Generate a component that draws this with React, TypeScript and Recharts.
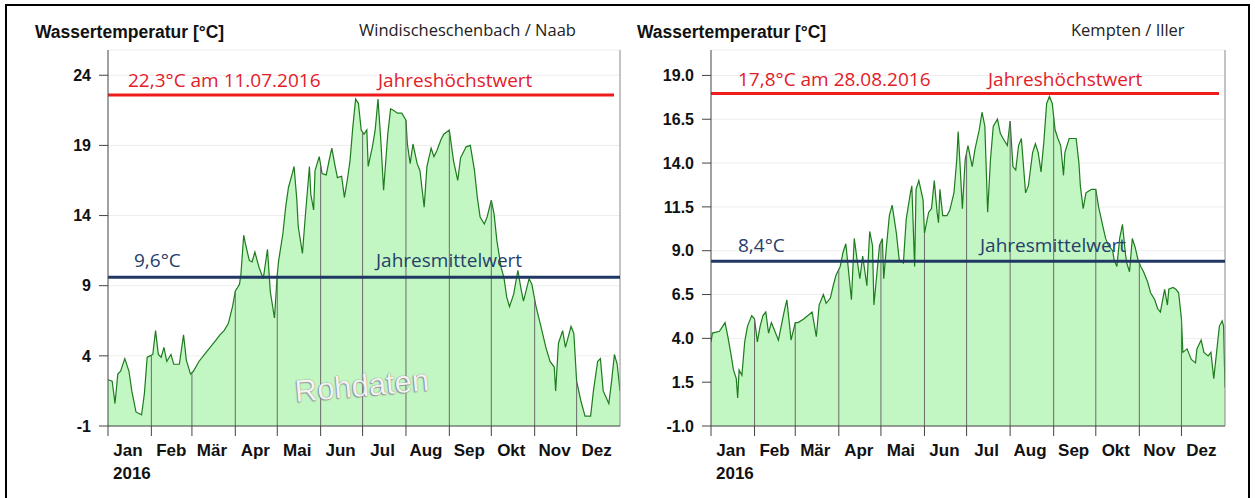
import React from 'react';
import { AreaChart, Area, XAxis, YAxis, CartesianGrid, ReferenceLine } from 'recharts';

const monthStarts = [0, 31, 60, 91, 121, 152, 182, 213, 244, 274, 305, 335];
const monthNames = ['Jan', 'Feb', 'Mär', 'Apr', 'Mai', 'Jun', 'Jul', 'Aug', 'Sep', 'Okt', 'Nov', 'Dez'];
const yearLabel = '2016';
const axisTitle = 'Wassertemperatur [°C]';

// Windischeschenbach / Naab
const naabStation = 'Windischeschenbach / Naab';
const naabDays = [0, 3, 5, 7, 9, 12, 15, 17, 20, 24, 26, 28, 30, 32, 34, 36, 38, 40, 42, 45, 47, 51, 54, 56, 59, 61, 65, 69, 73, 77, 80, 83, 86, 89, 91, 94, 95, 97, 98, 101, 103, 105, 108, 111, 114, 116, 119, 121, 122, 125, 127, 129, 132, 133, 135, 136, 139, 141, 144, 145, 147, 148, 151, 153, 156, 158, 160, 162, 164, 167, 169, 171, 173, 175, 177, 179, 181, 183, 185, 186, 189, 191, 193, 195, 197, 200, 202, 204, 207, 210, 213, 214, 216, 218, 221, 223, 226, 228, 231, 233, 235, 238, 240, 244, 247, 250, 252, 256, 259, 262, 264, 266, 269, 271, 274, 276, 278, 281, 283, 285, 287, 290, 293, 295, 297, 301, 303, 306, 309, 313, 316, 319, 320, 322, 325, 327, 331, 333, 335, 338, 341, 345, 347, 350, 352, 354, 358, 360, 362, 364, 366];
const naabTemps = [2.3, 2.2, 0.6, 2.7, 2.9, 3.8, 2.9, 1.5, 0.0, -0.2, 1.3, 3.9, 4.0, 4.1, 5.8, 4.1, 3.9, 4.6, 3.6, 4.1, 3.4, 3.4, 5.5, 3.7, 2.7, 2.9, 3.6, 4.1, 4.6, 5.1, 5.5, 5.8, 6.3, 7.5, 8.6, 9.1, 9.8, 12.6, 12.1, 10.8, 10.7, 11.4, 10.3, 9.5, 11.6, 8.6, 6.7, 9.8, 10.8, 12.7, 14.6, 16.0, 17.1, 17.5, 15.1, 13.2, 11.3, 13.9, 17.5, 15.5, 14.4, 17.2, 18.2, 17.0, 16.9, 17.9, 18.8, 17.7, 16.7, 16.8, 15.3, 16.5, 17.9, 20.3, 22.3, 22.0, 20.1, 19.8, 20.1, 17.5, 18.9, 20.1, 22.3, 19.4, 15.8, 19.8, 21.6, 21.5, 21.3, 21.3, 20.8, 19.1, 17.7, 19.1, 17.7, 17.2, 14.6, 17.5, 18.8, 18.2, 18.6, 19.4, 19.8, 20.1, 17.9, 16.5, 18.1, 18.9, 19.0, 17.2, 15.3, 13.9, 13.4, 13.9, 15.1, 14.1, 12.2, 10.3, 9.6, 8.2, 7.5, 8.4, 10.1, 8.9, 7.9, 9.5, 9.1, 7.5, 6.3, 4.6, 3.6, 3.2, 1.5, 4.9, 5.8, 4.6, 6.1, 5.6, 2.2, 0.8, -0.3, -0.3, 1.5, 3.6, 3.8, 1.5, 0.6, 2.2, 4.1, 3.4, 1.5];
const naabTicks = [-1, 4, 9, 14, 19, 24];
const naabMax = 22.3;
const naabMaxText = '22,3°C am 11.07.2016';
const naabMean = 9.6;
const naabMeanText = '9,6°C';

// Kempten / Iller
const illerStation = 'Kempten / Iller';
const illerDays = [0, 1, 6, 10, 12, 14, 16, 18, 19, 20, 22, 24, 26, 29, 31, 33, 35, 37, 39, 41, 43, 45, 48, 50, 52, 54, 56, 57, 60, 62, 66, 69, 72, 75, 77, 80, 82, 85, 87, 89, 92, 94, 96, 98, 100, 102, 104, 106, 108, 111, 113, 115, 116, 118, 120, 122, 123, 125, 127, 129, 132, 134, 137, 139, 142, 143, 145, 146, 148, 151, 152, 155, 157, 159, 161, 162, 163, 165, 168, 170, 173, 175, 176, 177, 179, 181, 183, 186, 188, 191, 193, 195, 197, 199, 201, 204, 206, 208, 211, 213, 215, 217, 219, 221, 224, 226, 229, 231, 233, 235, 237, 239, 241, 243, 245, 247, 249, 251, 252, 255, 257, 260, 262, 263, 265, 267, 269, 271, 274, 276, 279, 281, 283, 286, 287, 289, 291, 293, 295, 296, 298, 300, 302, 304, 306, 308, 311, 313, 316, 318, 320, 323, 325, 326, 329, 331, 333, 335, 336, 339, 342, 345, 346, 349, 351, 354, 356, 358, 360, 362, 364, 365, 366];
const illerTemps = [3.8, 4.3, 4.4, 4.9, 4.1, 3.2, 2.2, 1.7, 0.6, 2.2, 1.9, 3.8, 4.7, 5.3, 5.1, 3.8, 4.7, 5.3, 5.5, 4.3, 4.9, 4.5, 3.9, 4.7, 5.5, 6.2, 4.7, 3.9, 4.9, 4.9, 5.1, 5.3, 5.5, 4.1, 5.9, 6.5, 6.0, 6.3, 7.0, 7.6, 8.1, 8.9, 9.4, 7.8, 6.2, 9.7, 8.5, 7.4, 8.7, 7.0, 10.1, 9.3, 5.9, 7.6, 9.3, 9.7, 7.4, 9.3, 11.0, 11.6, 10.0, 8.5, 8.3, 10.8, 12.3, 12.7, 8.1, 12.5, 13.0, 11.9, 10.0, 11.2, 11.4, 13.0, 11.2, 10.6, 12.5, 11.0, 11.0, 11.3, 12.3, 14.2, 15.8, 14.4, 11.4, 14.2, 15.0, 13.8, 14.8, 15.9, 16.9, 16.1, 11.2, 14.2, 16.1, 16.5, 15.7, 15.4, 15.0, 16.4, 13.8, 13.6, 15.0, 15.4, 12.3, 12.7, 14.6, 15.1, 14.6, 13.5, 15.2, 17.4, 17.8, 17.4, 15.9, 15.4, 15.0, 13.3, 14.6, 15.4, 15.4, 15.4, 14.0, 12.7, 11.4, 12.3, 12.4, 12.5, 12.5, 11.5, 10.4, 9.7, 9.3, 9.0, 8.5, 8.1, 9.7, 10.5, 8.9, 8.3, 7.8, 9.7, 9.2, 8.5, 8.1, 7.8, 7.2, 6.6, 6.2, 5.7, 5.5, 6.8, 5.9, 6.8, 6.9, 6.8, 6.6, 5.1, 3.2, 3.4, 2.8, 2.6, 3.4, 3.9, 3.2, 3.0, 3.2, 1.7, 3.2, 4.7, 5.0, 4.7, 1.2];
const illerTicks = [-1, 1.5, 4, 6.5, 9, 11.5, 14, 16.5, 19];
const illerMax = 17.8;
const illerMaxText = '17,8°C am 28.08.2016';
const illerMean = 8.4;
const illerMeanText = '8,4°C';

const maxLabel = 'Jahreshöchstwert';
const meanLabel = 'Jahresmittelwert';
const watermark = 'Rohdaten';

const boldFont = "'Liberation Sans', Arial, sans-serif";
const lightFont = "'Open Sans', 'Noto Sans', sans-serif";

function valueAt(days: number[], temps: number[], d: number): number {
  for (let i = 0; i < days.length - 1; i++) {
    if (d >= days[i] && d <= days[i + 1]) {
      const t = (d - days[i]) / (days[i + 1] - days[i] || 1);
      return temps[i] + t * (temps[i + 1] - temps[i]);
    }
  }
  return temps[temps.length - 1];
}

const MonthTick = (props: any) => {
  const { x, y, payload } = props;
  const i = monthStarts.indexOf(payload.value);
  if (i < 0) return null;
  return (
    <g>
      <text x={x + 20} y={y} dy="0.71em" textAnchor="middle" fill="#111" fontSize={17} fontWeight={700} fontFamily={boldFont}>
        {monthNames[i]}
      </text>
      {i === 0 && (
        <text x={x + 5} y={y + 23} dy="0.71em" textAnchor="start" fill="#111" fontSize={17} fontWeight={700} fontFamily={boldFont}>
          {yearLabel}
        </text>
      )}
    </g>
  );
};

type ChartProps = {
  left: number;
  width: number;
  yAxisWidth: number;
  days: number[];
  temps: number[];
  ticks: number[];
  domainTop: number;
  decimals: number;
  maxVal: number;
  maxText: string;
  meanVal: number;
  meanText: string;
  maxTextDx: number;
  meanTextDx: number;
  maxLabelDx: number;
  meanLabelDx: number;
  maxDy: number;
  meanDy: number;
  maxLift: number;
};

function TempChart(p: ChartProps) {
  const data = p.days.map((d, i) => ({ day: d, temp: p.temps[i] }));
  const bottom = p.ticks[0];
  const gridLines = monthStarts.slice(1).map((d) => ({ d, v: valueAt(p.days, p.temps, d) }));
  const maxLabelFn = (lp: any) => {
    const vb = lp.viewBox || {};
    return (
      <g>
        <text x={vb.x + p.maxTextDx} y={vb.y + p.maxDy} dominantBaseline="central" fill="#e3202a" fontSize={19} fontFamily={lightFont}>
          {p.maxText}
        </text>
        <text x={vb.x + p.maxLabelDx} y={vb.y + p.maxDy} dominantBaseline="central" fill="#e3202a" fontSize={19} fontFamily={lightFont}>
          {maxLabel}
        </text>
      </g>
    );
  };
  const meanLabelFn = (lp: any) => {
    const vb = lp.viewBox || {};
    return (
      <g>
        <text x={vb.x + p.meanTextDx} y={vb.y + p.meanDy} dominantBaseline="central" fill="#26406b" fontSize={19} fontFamily={lightFont}>
          {p.meanText}
        </text>
        <text x={vb.x + p.meanLabelDx} y={vb.y + p.meanDy} dominantBaseline="central" fill="#26406b" fontSize={19} fontFamily={lightFont}>
          {meanLabel}
        </text>
      </g>
    );
  };
  const maxShape = (sp: any) => (
    <line
      x1={sp.x1}
      y1={sp.y1 - p.maxLift}
      x2={sp.x2 - 6}
      y2={sp.y2 - p.maxLift}
      stroke="#ee1c1c"
      strokeWidth={3}
    />
  );
  return (
    <div style={{ position: 'absolute', left: p.left, top: 0 }}>
      <AreaChart width={p.width} height={498} data={data} margin={{ top: 50, right: 10, left: 0, bottom: 12 }}>
        <CartesianGrid vertical={false} stroke="#ededed" />
        <XAxis
          dataKey="day"
          type="number"
          domain={[0, 366]}
          ticks={monthStarts}
          interval={0}
          tick={<MonthTick />}
          tickSize={10}
          tickMargin={8}
          height={60}
          axisLine={{ stroke: '#444' }}
          tickLine={{ stroke: '#444' }}
          allowDataOverflow
        />
        <YAxis
          type="number"
          domain={[bottom, p.domainTop]}
          ticks={p.ticks}
          interval={0}
          width={p.yAxisWidth}
          tickFormatter={(v: number) => v.toFixed(p.decimals)}
          tick={{ fill: '#111', fontSize: 16, fontWeight: 700, fontFamily: boldFont }}
          tickSize={9}
          tickMargin={8}
          axisLine={{ stroke: '#444' }}
          tickLine={{ stroke: '#444' }}
          allowDataOverflow
        />
        <Area
          type="linear"
          dataKey="temp"
          stroke="#1e7b1e"
          strokeWidth={1.2}
          fill="#c2f6c2"
          fillOpacity={1}
          baseValue={bottom}
          dot={false}
          activeDot={false}
          isAnimationActive={false}
        />
        {gridLines.map((g) => (
          <ReferenceLine key={g.d} segment={[{ x: g.d, y: bottom }, { x: g.d, y: g.v }]} stroke="#6b6b6b" strokeWidth={1} />
        ))}
        <ReferenceLine x={366} stroke="#8a8a8a" strokeWidth={1} />
        <ReferenceLine y={p.meanVal} stroke="#1f3864" strokeWidth={3} label={meanLabelFn} />
        <ReferenceLine y={p.maxVal} stroke="#ee1c1c" strokeWidth={3} shape={maxShape} label={maxLabelFn} />
      </AreaChart>
    </div>
  );
}

const headerBold: React.CSSProperties = {
  position: 'absolute',
  fontFamily: boldFont,
  fontWeight: 700,
  fontSize: 17.5,
  lineHeight: '20px',
  color: '#111',
  whiteSpace: 'nowrap',
};
const headerLight: React.CSSProperties = {
  position: 'absolute',
  fontFamily: lightFont,
  fontSize: 16.5,
  lineHeight: '20px',
  color: '#222',
  whiteSpace: 'nowrap',
};

export default function App() {
  return (
    <div style={{ position: 'absolute', left: 0, top: 0, width: 1255, height: 498, overflow: 'hidden', background: '#fff' }}>
      <div style={{ position: 'absolute', left: 5, top: 4, width: 1241, height: 540, border: '2px solid #000' }} />
      <TempChart
        left={0}
        width={630}
        yAxisWidth={108}
        days={naabDays}
        temps={naabTemps}
        ticks={naabTicks}
        domainTop={25.8}
        decimals={0}
        maxVal={naabMax}
        maxText={naabMaxText}
        meanVal={naabMean}
        meanText={naabMeanText}
        maxTextDx={20}
        meanTextDx={26}
        maxLabelDx={270}
        meanLabelDx={268}
        maxDy={-19}
        meanDy={-17}
        maxLift={4}
      />
      <TempChart
        left={630}
        width={605}
        yAxisWidth={81}
        days={illerDays}
        temps={illerTemps}
        ticks={illerTicks}
        domainTop={20.45}
        decimals={1}
        maxVal={illerMax}
        maxText={illerMaxText}
        meanVal={illerMean}
        meanText={illerMeanText}
        maxTextDx={27}
        meanTextDx={27}
        maxLabelDx={277}
        meanLabelDx={269}
        maxDy={-17}
        meanDy={-16}
        maxLift={3}
      />
      <div style={{ ...headerBold, left: 35, top: 22 }}>{axisTitle}</div>
      <div style={{ ...headerLight, left: 359, top: 20 }}>{naabStation}</div>
      <div style={{ ...headerBold, left: 637, top: 22 }}>{axisTitle}</div>
      <div style={{ ...headerLight, left: 1071, top: 20 }}>{illerStation}</div>
      <div
        style={{
          position: 'absolute',
          left: 295,
          top: 374,
          fontFamily: "'Liberation Sans', Arial, sans-serif",
          fontSize: 31,
          lineHeight: '36px',
          color: '#f3f3f3',
          textShadow: '0 0 1px #666, -1px 1px 1px #999',
          transform: 'rotate(-5deg)',
          transformOrigin: 'left center',
          whiteSpace: 'nowrap',
        }}
      >
        {watermark}
      </div>
    </div>
  );
}
